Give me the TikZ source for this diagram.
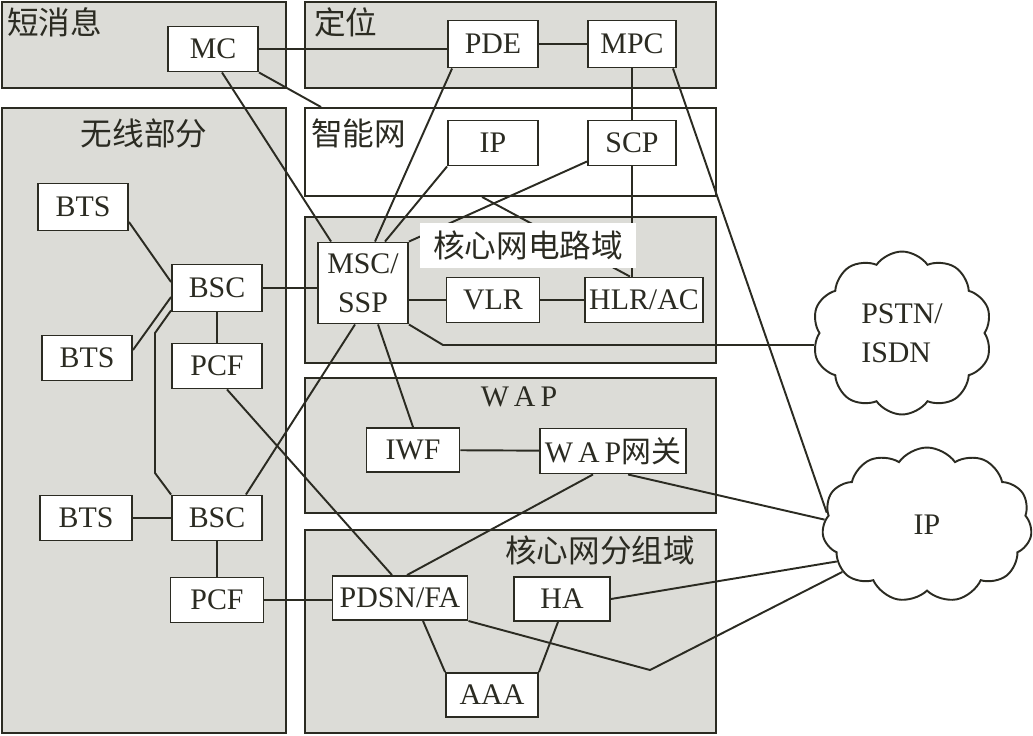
\documentclass[tikz,border=0pt]{standalone}
\usepackage{fontspec}
\setmainfont{Liberation Serif}
\newfontfamily\cjk{Noto Sans CJK SC}
\usetikzlibrary{calc,fit,shapes.symbols}
\definecolor{cK}{HTML}{2B2B22}
\definecolor{cG}{HTML}{DCDCD7}
\tikzset{
  region/.style={draw=cK,fill=cG,line width=1.1pt,inner sep=0pt},
  box/.style={draw=cK,fill=white,line width=1.1pt,minimum width=1.8cm,minimum height=0.9cm,
    inner sep=2pt,font=\fontsize{17}{22}\selectfont,text=cK},
  title/.style={font=\cjk\fontsize{18}{20}\selectfont,text=cK,inner sep=0pt},
  net/.style={cloud,cloud puffs=11,cloud puff arc=110,cloud ignores aspect,draw=cK,fill=white,
    line width=1.1pt,font=\fontsize{17}{22}\selectfont,text=cK},
  link/.style={draw=cK,line width=1.1pt},
}
\begin{document}
\begin{tikzpicture}[x=0.02cm,y=-0.02cm]
  \useasboundingbox (0,0) rectangle (1033,735);
  % domains
  \node[region,fit={(2,2)(286,88)}] (sms) {};
  \node[region,fit={(305,2)(716,88)}] (loc) {};
  \node[region,fill=white,fit={(305,108)(716,196)}] (intn) {};
  \node[region,fit={(2,108)(286,733)}] (radio) {};
  \node[region,fit={(305,217)(716,363)}] (cs) {};
  \node[region,fit={(305,378)(716,513)}] (wap) {};
  \node[region,fit={(305,530)(716,733)}] (ps) {};
  \node[title,anchor=west] (tsms) at (7,22) {短消息};
  \node[title,anchor=west] (tloc) at (314,22) {定位};
  \node[title,anchor=west] (tint) at (311,133) {智能网};
  \node[title] (tradio) at (144,133) {无线部分};
  \node[title,font=\fontsize{17}{20}\selectfont] (twap) at (519,397) {W\,A\,P};
  \node[title] (tps) at (600,550) {核心网分组域};
  % elements
  \node[box] (mc) at (213,49) {MC};
  \node[box,minimum height=0.94cm] (pde) at (493,44) {PDE};
  \node[box,minimum width=1.76cm,minimum height=0.94cm] (mpc) at (632,44) {MPC};
  \node[box] (ipn) at (493,143) {IP};
  \node[box,minimum width=1.76cm] (scp) at (632,143) {SCP};
  \node[box,minimum height=1.62cm,align=center] (msc) at (363,283) {MSC/\\SSP};
  \node[box,minimum width=1.86cm] (vlr) at (493,300) {VLR};
  \node[box,minimum width=2.36cm] (hlr) at (644,300) {HLR/AC};
  \node[box,minimum height=0.94cm] (bts1) at (83,207) {BTS};
  \node[box,minimum height=0.94cm] (bsc1) at (217,288) {BSC};
  \node[box] (bts2) at (87,358) {BTS};
  \node[box] (pcf1) at (217,366) {PCF};
  \node[box,minimum width=1.84cm] (bts3) at (86,518) {BTS};
  \node[box] (bsc2) at (217,518) {BSC};
  \node[box,minimum width=1.86cm] (pcf2) at (217,600) {PCF};
  \node[box,minimum width=1.86cm,minimum height=0.88cm] (iwf) at (413,450) {IWF};
  \node[box,minimum width=2.92cm] (wapg) at (613,451) {W\,A\,P{\cjk 网关}};
  \node[box,minimum width=2.7cm,minimum height=0.88cm] (pdsn) at (400,598) {PDSN/FA};
  \node[box,minimum width=1.92cm,minimum height=0.88cm] (ha) at (562,599) {HA};
  \node[box,minimum width=1.84cm,minimum height=0.88cm] (aaa) at (492,695) {AAA};
  \node[net,cloud puffs=10,minimum width=3.6cm,minimum height=3.26cm,align=left] (pstn) at (902,333) {PSTN/\\ISDN};
  \node[net,minimum width=4.2cm,minimum height=3.1cm] (ipc) at (927,525) {IP};
  % bends
  \coordinate (kIN) at ($(intn.south west)+(178,0)$);
  \coordinate (kPS) at (443,345);
  \coordinate (kA) at (155,333);
  \coordinate (kB) at (155,473);
  \coordinate (kPI) at (650,670);
  % links
  \draw[link] (mc.east) -- (mc.east -| pde.west);
  \draw[link] (pde) -- (mpc);
  \draw[link] (mpc) -- (scp);
  \draw[link] ($(mpc.south east)+(-4,0)$) -- (ipc.173);
  \draw[link] ($(mc.south)+(9,0)$) -- ($(msc.north west)+(14,0)$);
  \draw[link] (mc.south east) -- ($(intn.north west)+(17,0)$);
  \draw[link] ($(pde.south west)+(5,0)$) -- ($(msc.north)+(12,0)$);
  \draw[link] (ipn.south west) -- ($(msc.north)+(22,0)$);
  \draw[link] ($(scp.south west)+(0,-5)$) -- (msc.north east);
  \draw[link] (kIN) -- ($(hlr.north)+(-14,0)$);
  \draw[link] (scp.south) -- (scp.south |- hlr.north);
  \draw[link] (bsc1.east) -- (bsc1.east -| msc.west);
  \draw[link] (vlr.west) -- (vlr.west -| msc.east);
  \draw[link] (vlr) -- (hlr);
  \draw[link] (msc.south east) -- (kPS) -- (kPS -| pstn.188);
  \draw[link] ($(msc.south)+(-8,0)$) -- ($(bsc2.north east)+(-17,0)$);
  \draw[link] ($(msc.south)+(15,0)$) -- (iwf.north);
  \draw[link] ($(bts1.east)+(0,15)$) -- ($(bsc1.west)+(0,-6)$);
  \draw[link] ($(bts2.east)+(0,-8)$) -- ($(bsc1.west)+(0,9)$);
  \draw[link] ($(bsc1.south west)+(0,-2)$) -- (kA) -- (kB) -- (bsc2.north west);
  \draw[link] (bsc1) -- (pcf1);
  \draw[link] ($(pcf1.south)+(10,0)$) -- ($(pdsn.north)+(-8,0)$);
  \draw[link] (bts3) -- (bsc2);
  \draw[link] (bsc2) -- (pcf2);
  \draw[link] (pcf2.east) -- (pcf2.east -| pdsn.west);
  \draw[link] (iwf) -- (wapg);
  \draw[link] ($(wapg.south)+(-20,0)$) -- ($(pdsn.north)+(7,0)$);
  \draw[link] ($(wapg.south)+(15,0)$) -- (ipc.177);
  \draw[link] (ha.east) -- (ipc.202);
  \draw[link] (pdsn.south east) -- (kPI) -- (ipc.209);
  \draw[link] ($(pdsn.south)+(23,0)$) -- (aaa.north west);
  \draw[link] ($(ha.south)+(-4,0)$) -- (aaa.north east);
  % label over the crossing lines
  \node[title,fill=white,minimum width=4.34cm,minimum height=0.9cm] (tcs) at (528,245) {核心网电路域};
\end{tikzpicture}
\end{document}
